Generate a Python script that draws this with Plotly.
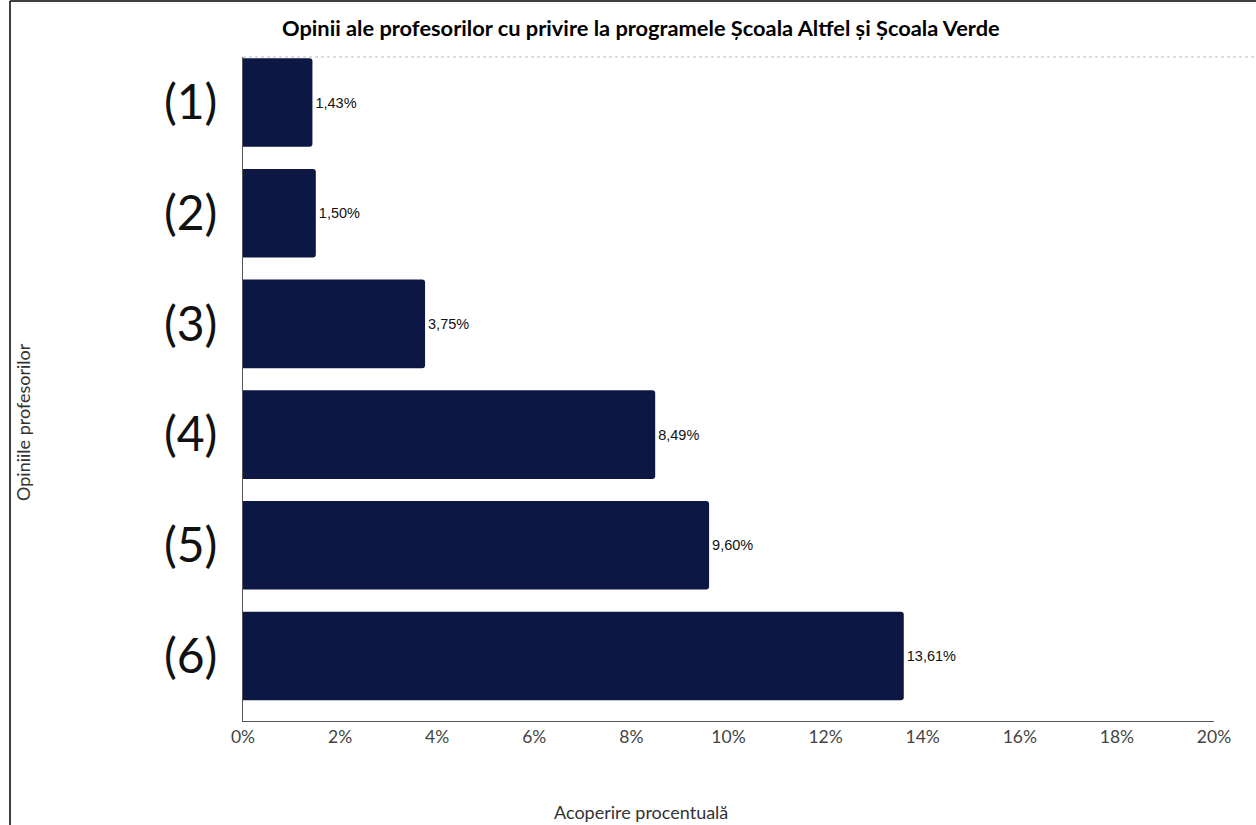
import plotly.graph_objects as go

# data
categories = ["(1)", "(2)", "(3)", "(4)", "(5)", "(6)"]
values = [1.43, 1.50, 3.75, 8.49, 9.60, 13.61]
value_labels = ["1,43%", "1,50%", "3,75%", "8,49%", "9,60%", "13,61%"]
x_ticks = [0, 2, 4, 6, 8, 10, 12, 14, 16, 18, 20]
x_tick_labels = [f"{t}%" for t in x_ticks]

title = "Opinii ale profesorilor cu privire la programele Școala Altfel și Școala Verde"
x_title = "Acoperire procentuală"
y_title = "Opiniile profesorilor"

fig = go.Figure()
fig.add_trace(go.Bar(
    x=values,
    y=categories,
    orientation="h",
    width=0.8,
    marker=dict(color="#0c1744", line=dict(width=0)),
    text=value_labels,
    textposition="outside",
    cliponaxis=False,
    textfont=dict(family="Liberation Sans, Arial", size=14.5, color="#111111"),
    hoverinfo="skip",
))

fig.update_layout(
    width=1256, height=825,
    margin=dict(l=243, r=42, t=57, b=104),
    paper_bgcolor="white", plot_bgcolor="white",
    showlegend=False,
    barcornerradius=3,
    xaxis=dict(
        range=[0, 20], tickvals=x_ticks, ticktext=x_tick_labels,
        showgrid=False, zeroline=False,
        showline=True, linecolor="#555555", linewidth=1,
        ticks="", ticklabelstandoff=0,
        tickfont=dict(family="Lato", size=17.5, color="#444444"),
    ),
    yaxis=dict(
        type="category", categoryorder="array", categoryarray=categories,
        range=[5.587, -0.411],
        showgrid=False, zeroline=False,
        showline=True, linecolor="#555555", linewidth=1,
        ticks="", ticklabelstandoff=15,
        tickfont=dict(family="Lato", size=48, color="#111111"),
    ),
    annotations=[
        dict(text=f"<b>{title}</b>", xref="paper", yref="paper",
             x=(641 - 243) / 971, y=(721 - 27) / 664, xanchor="center", yanchor="middle",
             showarrow=False, font=dict(family="Lato", size=21.8, color="#000000")),
        dict(text=x_title, xref="paper", yref="paper",
             x=(641 - 243) / 971, y=(721 - 812) / 664, xanchor="center", yanchor="middle",
             showarrow=False, font=dict(family="Lato", size=18, color="#333333")),
        dict(text=y_title, xref="paper", yref="paper", textangle=-90,
             x=(23 - 243) / 971, y=(721 - 422) / 664, xanchor="center", yanchor="middle",
             showarrow=False, font=dict(family="Lato", size=18, color="#333333")),
    ],
    shapes=[
        # dotted top line
        dict(type="line", xref="paper", yref="paper", x0=0, x1=(1256 - 243) / 971, y0=1, y1=1,
             line=dict(color="#bbbbbb", width=1, dash="dot")),
        # frame borders
        dict(type="line", xref="paper", yref="paper",
             x0=(10 - 243) / 971, x1=(10 - 243) / 971, y0=(721 - 1) / 664, y1=(721 - 826) / 664,
             line=dict(color="#000000", width=1.5)),
        dict(type="line", xref="paper", yref="paper",
             x0=(10 - 243) / 971, x1=(1257 - 243) / 971, y0=(721 - 1) / 664, y1=(721 - 1) / 664,
             line=dict(color="#000000", width=1.5)),
    ],
)

# drop the default page margin so the figure sits at the window's top-left
fig.write_html("out.html", config={"displayModeBar": False},
               post_script="document.body.style.margin='0';")
